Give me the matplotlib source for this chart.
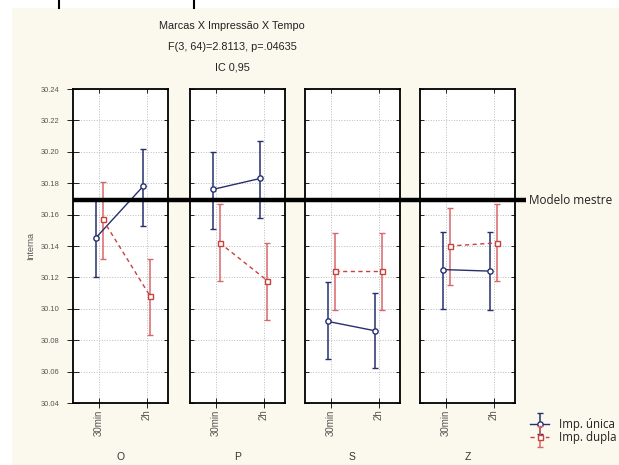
import matplotlib
matplotlib.use("Agg")
import matplotlib.pyplot as plt
import numpy as np
from matplotlib.patches import Rectangle
from matplotlib.lines import Line2D
from matplotlib.legend_handler import HandlerErrorbar
from matplotlib.container import ErrorbarContainer
from matplotlib.ticker import FixedLocator

# dados
marcas = ["O", "P", "S", "Z"]
tempos = ["30min", "2h"]
unica_media = [[30.145, 30.178], [30.176, 30.183], [30.092, 30.086], [30.125, 30.124]]
unica_inf = [[30.120, 30.153], [30.151, 30.158], [30.068, 30.062], [30.100, 30.099]]
unica_sup = [[30.169, 30.202], [30.200, 30.207], [30.117, 30.110], [30.149, 30.149]]
dupla_media = [[30.157, 30.108], [30.142, 30.118], [30.124, 30.124], [30.140, 30.142]]
dupla_inf = [[30.132, 30.083], [30.118, 30.093], [30.099, 30.099], [30.115, 30.118]]
dupla_sup = [[30.181, 30.132], [30.167, 30.142], [30.148, 30.148], [30.164, 30.167]]
modelo_mestre = 30.169
yticks = [30.04, 30.06, 30.08, 30.10, 30.12, 30.14, 30.16, 30.18, 30.20, 30.22, 30.24]

W, H = 619, 465
azul = "#26306e"
vermelho = "#c8423f"
vermelho_barra = "#d9666a"
creme = "#fbf8ee"

fig = plt.figure(figsize=(W / 100, H / 100), dpi=100)
fig.patch.set_facecolor("white")
# fundo creme
fig.patches.append(Rectangle((12 / W, 0), 1, 1 - 8 / H, transform=fig.transFigure,
                             facecolor=creme, edgecolor="none", zorder=-10))
# restos de borda no topo
for xp in [59, 194]:
    fig.add_artist(Line2D([xp / W, xp / W], [1, 1 - 8 / H], color="black", lw=1.5,
                          transform=fig.transFigure))

fonte = "Liberation Sans"
estreita = ["Liberation Sans Narrow", "Liberation Sans"]
lefts = [73, 190, 305, 420]
larg = 95
y0, y1 = 403, 89
bot = (H - y0) / H
alt = (y0 - y1) / H
x = np.arange(len(tempos))
d = 0.075

eixos = []
for i, m in enumerate(marcas):
    ax = fig.add_axes([lefts[i] / W, bot, larg / W, alt])
    ax.set_facecolor("white")
    ax.set_xlim(-0.55, 1.45)
    ax.set_ylim(30.04, 30.24)
    ax.set_yticks(yticks)
    ax.set_xticks(x)
    # marcas menores nas mesmas posicoes, para os lados de dentro
    ax.xaxis.remove_overlapping_locs = False
    ax.yaxis.remove_overlapping_locs = False
    ax.xaxis.set_minor_locator(FixedLocator(x))
    ax.yaxis.set_minor_locator(FixedLocator(yticks))
    ax.set_xticklabels(tempos, rotation=90, fontsize=7, color="#555555", family=estreita)
    ax.grid(True, which="major", color="#bbbbbb", linestyle=":", linewidth=0.7)
    ax.tick_params(which="minor", direction="in", length=3, width=0.7, top=True,
                   right=True, bottom=False, left=False, colors="#222222")
    ax.tick_params(axis="x", which="major", direction="inout", length=7, width=0.7,
                   top=False, bottom=True, pad=1, colors="#222222", labelcolor="#555555")
    if i == 0:
        ax.tick_params(axis="y", which="major", direction="inout", length=8, width=0.7,
                       left=True, right=False, pad=6, colors="#222222")
        ax.set_yticklabels(["%.2f" % v for v in yticks], fontsize=5.4, color="#555555",
                           family=estreita)
        ax.set_ylabel("Interna", fontsize=6.5, color="#555555", family=estreita, labelpad=4)
    else:
        ax.tick_params(axis="y", which="major", left=False, right=False)
        ax.tick_params(which="minor", left=True)
        ax.set_yticklabels([])
    for s in ax.spines.values():
        s.set_linewidth(1.3)
    ax.set_xlabel(m, fontsize=7.5, color="#333333", family=fonte, labelpad=12)

    um = np.array(unica_media[i])
    ue = [um - np.array(unica_inf[i]), np.array(unica_sup[i]) - um]
    dm = np.array(dupla_media[i])
    de = [dm - np.array(dupla_inf[i]), np.array(dupla_sup[i]) - dm]
    h1 = ax.errorbar(x - d, um, yerr=ue, color=azul, ecolor=azul, elinewidth=1.1,
                     capsize=2.3, capthick=1, lw=1, marker="o", ms=3.8, mfc="white",
                     mec=azul, mew=1, zorder=4, label="Imp. única")
    h2 = ax.errorbar(x + d, dm, yerr=de, color=vermelho, ecolor=vermelho_barra,
                     elinewidth=1.1, capsize=2.3, capthick=1, lw=1, ls=(0, (3, 2.5)),
                     marker="s", ms=3.6, mfc="white", mec=vermelho, mew=1, zorder=4,
                     label="Imp. dupla")
    eixos.append(ax)

# linha do modelo mestre
sob = fig.add_axes([73 / W, bot, (526 - 73) / W, alt])
sob.set_ylim(30.04, 30.24)
sob.set_xlim(0, 1)
sob.axis("off")
sob.axhline(modelo_mestre, color="black", lw=3.2)
sob.text(1.007, modelo_mestre, "Modelo mestre", transform=sob.get_yaxis_transform(),
         va="center", ha="left", fontsize=8.5, family="Open Sans", color="#222222")

# titulos
for txt, yp in [("Marcas X Impressão X Tempo", 26), ("F(3, 64)=2.8113, p=.04635", 47),
                ("IC 0,95", 68)]:
    fig.text(232 / W, 1 - yp / H, txt, ha="center", va="center",
             fontsize=7.8, family=fonte, color="#222222")

# legenda
leg = fig.legend(handles=[h1, h2], loc="upper left", bbox_to_anchor=(524 / W, 1 - 412 / H),
                 frameon=False, prop={"family": "Open Sans", "size": 8.3},
                 handlelength=1.7, handletextpad=0.8, labelspacing=0.0, borderpad=0,
                 handler_map={ErrorbarContainer: HandlerErrorbar(yerr_size=0.9)})
for t in leg.get_texts():
    t.set_color("#222222")

fig.savefig("out.png", dpi=100, facecolor=fig.get_facecolor())
